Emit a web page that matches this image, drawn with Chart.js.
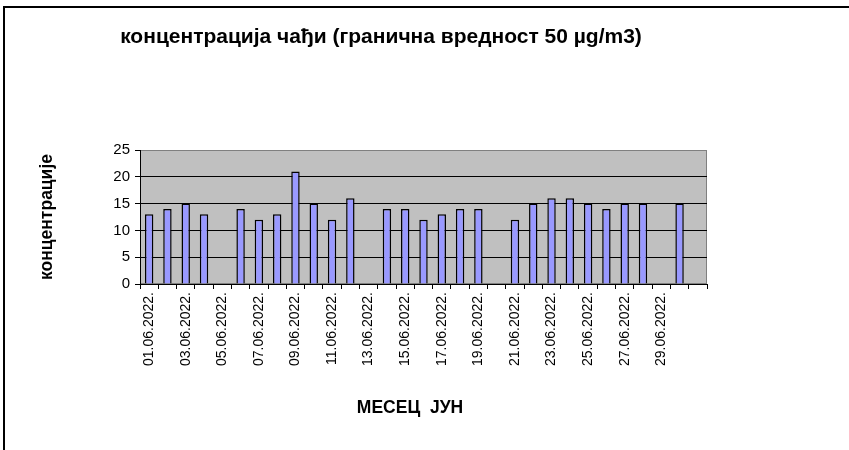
<!DOCTYPE html>
<html>
<head>
<meta charset="utf-8">
<script src="https://cdn.jsdelivr.net/npm/chart.js@4"></script>
<style>
  body { margin: 0; background: #fff; }
  #wrap { position: relative; width: 849px; height: 450px; }
  #frame { position: absolute; left: 3px; top: 6px; right: 0; bottom: 0;
           border-left: 2px solid #000; border-top: 2px solid #000; pointer-events: none; }
</style>
</head>
<body>
<div id="wrap">
  <canvas id="sootChart" width="849" height="450"></canvas>
  <div id="frame"></div>
</div>
<script>
// дани у јуну (последња категорија без ознаке)
const days = [
  '01.06.2022.', '02.06.2022.', '03.06.2022.', '04.06.2022.', '05.06.2022.',
  '06.06.2022.', '07.06.2022.', '08.06.2022.', '09.06.2022.', '10.06.2022.',
  '11.06.2022.', '12.06.2022.', '13.06.2022.', '14.06.2022.', '15.06.2022.',
  '16.06.2022.', '17.06.2022.', '18.06.2022.', '19.06.2022.', '20.06.2022.',
  '21.06.2022.', '22.06.2022.', '23.06.2022.', '24.06.2022.', '25.06.2022.',
  '26.06.2022.', '27.06.2022.', '28.06.2022.', '29.06.2022.', '30.06.2022.', ''
];
// концентрација чађи, µg/m3 (null = нема мерења)
const soot = [13, 14, 15, 13, null, 14, 12, 13, 21, 15, 12, 16, null, 14, 14,
              12, 13, 14, 14, null, 12, 15, 16, 16, 15, 14, 15, 15, null, 15, null];
const yTicks = [0, 5, 10, 15, 20, 25];

const chartTitle = 'концентрација чађи (гранична вредност 50 µg/m3)';
const xTitle = 'МЕСЕЦ  ЈУН';
const yTitle = 'концентрације';

const FONT = '"Liberation Sans", Arial, sans-serif';

// сива позадина поља графикона
const plotBg = {
  id: 'plotBg',
  beforeDraw(chart) {
    const {ctx, chartArea: a} = chart;
    ctx.save();
    ctx.fillStyle = '#c0c0c0';
    ctx.fillRect(a.left, a.top, a.right - a.left, a.bottom - a.top);
    ctx.strokeStyle = '#808080';
    ctx.lineWidth = 1;
    ctx.strokeRect(a.left + 0.5, a.top + 0.5, a.right - a.left - 1, a.bottom - a.top - 1);
    ctx.restore();
  }
};

// наслов и наслов x осе
const texts = {
  id: 'texts',
  afterDraw(chart) {
    const ctx = chart.ctx;
    ctx.save();
    ctx.fillStyle = '#000';
    ctx.textAlign = 'center';
    ctx.textBaseline = 'middle';
    ctx.font = 'bold 21px ' + FONT;
    ctx.fillText(chartTitle, 381, 37);
    ctx.font = 'bold 17.5px ' + FONT;
    ctx.fillText(xTitle, 410, 408);
    ctx.restore();
  }
};

new Chart(document.getElementById('sootChart'), {
  type: 'bar',
  data: {
    labels: days,
    datasets: [{
      data: soot,
      backgroundColor: '#9999ff',
      borderColor: '#000',
      borderWidth: 1.5,
      categoryPercentage: 1,
      barPercentage: 0.46
    }]
  },
  options: {
    responsive: false,
    animation: false,
    layout: { padding: { top: 150, right: 142, bottom: 0, left: 0 } },
    plugins: { legend: { display: false }, tooltip: { enabled: false } },
    scales: {
      x: {
        grid: { offset: true, drawOnChartArea: false, tickLength: 5, color: '#000' },
        border: { color: '#000' },
        ticks: {
          autoSkip: false, minRotation: 90, maxRotation: 90, padding: 3, color: '#000',
          font: { family: FONT, size: 14 },
          callback(v, i) { return i % 2 ? '' : this.getLabelForValue(v); }
        },
        afterFit(s) { s.height = 166; }
      },
      y: {
        min: yTicks[0],
        max: yTicks[yTicks.length - 1],
        afterBuildTicks(s) { s.ticks = yTicks.map(v => ({ value: v })); },
        grid: {
          color: c => (c.tick && c.tick.value === 25 ? '#808080' : '#000'),
          tickColor: '#000',
          tickLength: 5
        },
        border: { color: '#000' },
        ticks: { padding: 5, color: '#000', font: { family: FONT, size: 15 } },
        title: {
          display: true, text: yTitle, color: '#000',
          font: { family: FONT, size: 17.5, weight: 'bold' },
          padding: { top: 37, bottom: 0 }
        },
        afterFit(s) { s.width = 140; }
      }
    }
  },
  plugins: [plotBg, texts]
});
</script>
</body>
</html>
